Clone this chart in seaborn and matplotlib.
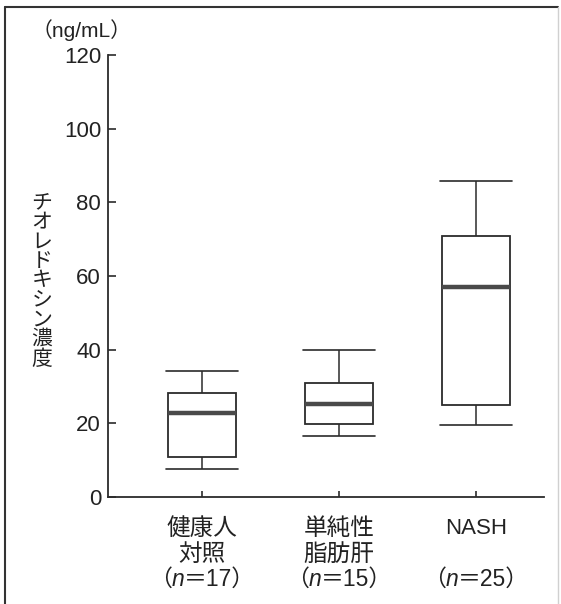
import numpy as np
import pandas as pd
import matplotlib
matplotlib.use("Agg")
import matplotlib.pyplot as plt
import seaborn as sns
from matplotlib.lines import Line2D
from matplotlib.offsetbox import TextArea, HPacker, AnnotationBbox

# ---- data ----
groups = ["健康人\n対照", "単純性\n脂肪肝", "NASH"]
n_labels = ["17", "15", "25"]
# five-number summaries: lower whisker, Q1, median, Q3, upper whisker
whisker_low = [7.7, 16.6, 19.6]
q1 = [10.9, 19.8, 24.9]
median = [22.8, 25.2, 57.0]
q3 = [28.1, 31.0, 70.9]
whisker_high = [34.1, 40.0, 85.7]
yticks = [0, 20, 40, 60, 80, 100, 120]
ylabel_text = "チオレドキシン濃度"
unit_text = "（ng/mL）"

rows = []
for g, a, b, c, d, e in zip(groups, whisker_low, q1, median, q3, whisker_high):
    for v in (a, b, c, d, e):
        rows.append({"group": g, "value": v})
df = pd.DataFrame(rows)

sns.set_style("ticks")
CJK = ["Liberation Sans", "Noto Sans CJK JP"]
plt.rcParams["font.family"] = CJK

fig = plt.figure(figsize=(5.61, 6.04), dpi=100)
ax = fig.add_axes([108 / 561, 1 - 497 / 604, (544 - 108) / 561, (497 - 55) / 604])

edge = "#2b2b2b"
sns.boxplot(
    data=df, x="group", y="value", order=groups, ax=ax,
    width=0.49, whis=(0, 100), showfliers=False,
    color="white", linecolor=edge, linewidth=1.3,
    medianprops=dict(color="#4a4a4a", linewidth=3.2, solid_capstyle="butt"),
    whiskerprops=dict(color=edge, linewidth=1.1),
    capprops=dict(color=edge, linewidth=1.2),
)

# widen the caps a little beyond the box, as in the reference
for ln in ax.lines:
    xd = np.asarray(ln.get_xdata(), dtype=float)
    yd = np.asarray(ln.get_ydata(), dtype=float)
    if len(xd) == 2 and yd[0] == yd[1] and abs(xd[1] - xd[0]) / 2 < 0.2:
        cx = xd.mean()
        ln.set_xdata([cx - 0.26, cx + 0.26])

ax.set_xlim(-0.686, 2.496)
ax.set_ylim(0, 120)
ax.set_yticks(yticks)
ax.set_yticklabels([str(t) for t in yticks], fontsize=16, family="Liberation Sans")
ax.set_xlabel("")
ax.set_ylabel("")
ax.set_xticks(range(len(groups)))
ax.set_xticklabels(groups, fontsize=17, linespacing=1.22)
for lab in ax.get_xticklabels():
    if lab.get_text() == "NASH":
        lab.set_fontsize(16)
ax.tick_params(axis="y", direction="in", length=6, width=1.2, pad=5, colors=edge, labelcolor="#222")
ax.tick_params(axis="x", direction="in", length=4.5, width=1.2, pad=15, colors=edge, labelcolor="#222")
for s in ["top", "right"]:
    ax.spines[s].set_visible(False)
for s in ["left", "bottom"]:
    ax.spines[s].set_color(edge)
    ax.spines[s].set_linewidth(1.3)

# (n=..) line with italic n
for i, nl in enumerate(n_labels):
    parts = [
        TextArea("（", textprops=dict(fontsize=16.5, family=CJK, color="#222")),
        TextArea("n", textprops=dict(fontsize=16.5, family="Liberation Sans", style="italic", color="#222")),
        TextArea("＝" + nl + "）", textprops=dict(fontsize=16.5, family=CJK, color="#222")),
    ]
    pack = HPacker(children=parts, align="baseline", pad=0, sep=0)
    ab = AnnotationBbox(pack, (i, 1 - 579 / 604), xycoords=("data", "figure fraction"),
                        frameon=False, box_alignment=(0.5, 0.5), annotation_clip=False)
    ax.add_artist(ab)

# vertical y-axis title and unit
fig.text(42 / 561, 1 - 281 / 604, "\n".join(ylabel_text), ha="center", va="center",
         fontsize=15, family=CJK, linespacing=1.03, color="#222")
fig.text(82 / 561, 1 - 30 / 604, unit_text, ha="center", va="center",
         fontsize=15, family=CJK, color="#222")

# page frame
fig.add_artist(Line2D([5 / 561, 5 / 561], [0, 1 - 7 / 604], transform=fig.transFigure, color="#333", lw=1.5))
fig.add_artist(Line2D([5 / 561, 558 / 561], [1 - 7 / 604, 1 - 7 / 604], transform=fig.transFigure, color="#333", lw=1.5))
fig.add_artist(Line2D([558 / 561, 558 / 561], [0, 1 - 7 / 604], transform=fig.transFigure, color="#d0d0d0", lw=1.0))

fig.savefig("out.png", dpi=100, facecolor="white")
